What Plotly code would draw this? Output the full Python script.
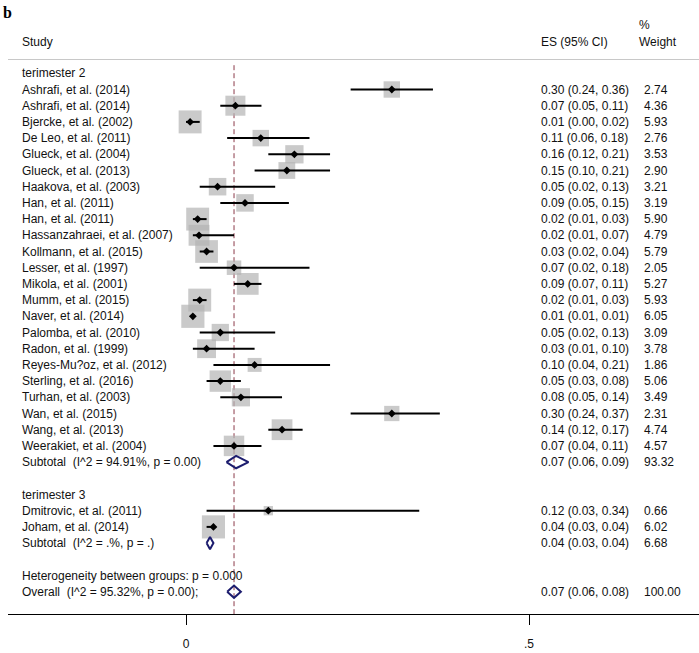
import numpy as np
import plotly.graph_objects as go

# ---------------- data ----------------
g2_labels = ["Ashrafi, et al. (2014)", "Ashrafi, et al. (2014)", "Bjercke, et al. (2002)",
             "De Leo, et al. (2011)", "Glueck, et al. (2004)", "Glueck, et al. (2013)",
             "Haakova, et al. (2003)", "Han, et al. (2011)", "Han, et al. (2011)",
             "Hassanzahraei, et al. (2007)", "Kollmann, et al. (2015)", "Lesser, et al. (1997)",
             "Mikola, et al. (2001)", "Mumm, et al. (2015)", "Naver, et al. (2014)",
             "Palomba, et al. (2010)", "Radon, et al. (1999)", "Reyes-Mu?oz, et al. (2012)",
             "Sterling, et al. (2016)", "Turhan, et al. (2003)", "Wan, et al. (2015)",
             "Wang, et al. (2013)", "Weerakiet, et al. (2004)"]
g2_es = [0.30, 0.072, 0.006, 0.109, 0.158, 0.147, 0.046, 0.086, 0.017, 0.019, 0.03, 0.07,
         0.09, 0.02, 0.01, 0.05, 0.03, 0.10, 0.05, 0.08, 0.30, 0.14, 0.07]
g2_lo = [0.24, 0.05, 0.00, 0.06, 0.12, 0.10, 0.02, 0.05, 0.01, 0.01, 0.02, 0.02,
         0.07, 0.01, 0.01, 0.02, 0.01, 0.04, 0.03, 0.05, 0.24, 0.12, 0.04]
g2_hi = [0.36, 0.11, 0.02, 0.18, 0.21, 0.21, 0.13, 0.15, 0.03, 0.07, 0.04, 0.18,
         0.11, 0.03, 0.01, 0.13, 0.10, 0.21, 0.08, 0.14, 0.37, 0.17, 0.11]
g2_w = [2.74, 4.36, 5.93, 2.76, 3.53, 2.90, 3.21, 3.19, 5.90, 4.79, 5.79, 2.05,
        5.27, 5.93, 6.05, 3.09, 3.78, 1.86, 5.06, 3.49, 2.31, 4.74, 4.57]

g3_labels = ["Dmitrovic, et al. (2011)", "Joham, et al. (2014)"]
g3_es = [0.12, 0.04]
g3_lo = [0.03, 0.03]
g3_hi = [0.34, 0.04]
g3_w = [0.66, 6.02]

group_titles = ["terimester 2", "terimester 3"]
sub_labels = ["Subtotal\u00a0 (I^2 = 94.91%, p = 0.00)", "Subtotal\u00a0 (I^2 = .%, p = .)"]
sub_es = [0.073, 0.035]
sub_lo = [0.059, 0.03]
sub_hi = [0.091, 0.04]
sub_w = [93.32, 6.68]

het_label = "Heterogeneity between groups: p = 0.000"
overall_label = "Overall\u00a0 (I^2 = 95.32%, p = 0.00);"
overall_es, overall_lo, overall_hi, overall_w = 0.07, 0.06, 0.08, 100.00

x_tickvals = [0, 0.5]
x_ticktext = ["0", ".5"]

# ---------------- layout geometry ----------------
W, H = 699, 653
ML, MR, MT, MB = 8, 0, 0, 39
ROW0, ROWH = 73.3, 16.2           # pixel y of row 0, row spacing
X0PX, XSCALE = 186.0, 686.0       # pixel x of value 0, px per unit

def px(xp):
    return (xp - ML) / (W - ML - MR)

def py(yp):
    return 1 - (yp - MT) / (H - MT - MB)

x_range = [(ML - X0PX) / XSCALE, (W - MR - X0PX) / XSCALE]
y_range = [(H - MB - ROW0) / ROWH, (MT - ROW0) / ROWH]

# ---------------- build rows ----------------
groups = [(g2_labels, g2_es, g2_lo, g2_hi, g2_w), (g3_labels, g3_es, g3_lo, g3_hi, g3_w)]
rows = []  # (row, label, kind, es, lo, hi, w)
r = 0
for gi, (labs, es, lo, hi, w) in enumerate(groups):
    rows.append((r, group_titles[gi], "title", None, None, None, None)); r += 1
    for i in range(len(labs)):
        rows.append((r, labs[i], "study", es[i], lo[i], hi[i], w[i])); r += 1
    rows.append((r, sub_labels[gi], "pooled", sub_es[gi], sub_lo[gi], sub_hi[gi], sub_w[gi])); r += 1
    r += 1
rows.append((r, het_label, "title", None, None, None, None)); r += 1
rows.append((r, overall_label, "pooled", overall_es, overall_lo, overall_hi, overall_w))

FONT = "Liberation Sans, Arial, Helvetica, sans-serif"
TXT = "#111111"

fig = go.Figure()

studies = [t for t in rows if t[2] == "study"]
sy = [t[0] for t in studies]
ses = [t[3] for t in studies]
sw = [t[6] for t in studies]

# weight boxes
fig.add_trace(go.Scatter(
    x=ses, y=sy, mode="markers",
    marker=dict(symbol="square", size=[2.5 + 8.4 * np.sqrt(v) for v in sw],
                color="#b4b4b4", line=dict(width=0)),
    hoverinfo="skip", showlegend=False))

# CI lines
cx, cy = [], []
for t in studies:
    cx += [t[4], t[5], None]
    cy += [t[0], t[0], None]
fig.add_trace(go.Scatter(x=cx, y=cy, mode="lines", line=dict(color="black", width=2),
                         hoverinfo="skip", showlegend=False))

# point estimates
fig.add_trace(go.Scatter(x=ses, y=sy, mode="markers",
                         marker=dict(symbol="diamond", size=6, color="black", line=dict(width=0)),
                         hoverinfo="skip", showlegend=False))

# pooled diamonds
HH = 0.38
for t in rows:
    if t[2] == "pooled":
        rr, es, lo, hi = t[0], t[3], t[4], t[5]
        fig.add_trace(go.Scatter(x=[lo, es, hi, es, lo], y=[rr, rr - HH, rr, rr + HH, rr],
                                 mode="lines", line=dict(color="#1c1c6e", width=2),
                                 hoverinfo="skip", showlegend=False))

# overall dashed line
fig.add_shape(type="line", xref="x", yref="y", x0=overall_es, x1=overall_es,
              y0=-0.5, y1=y_range[0], line=dict(color="#8c3a4a", width=1, dash="5px,3px"),
              layer="below")

# header separator
fig.add_shape(type="line", xref="paper", yref="paper", x0=0, x1=1, y0=py(59.5), y1=py(59.5),
              line=dict(color="#c8c8c8", width=1.2))

ann = []
def add_text(x, y, text, yref="y", size=12, **kw):
    ann.append(dict(x=x, y=y, xref="paper", yref=yref, text=text, showarrow=False,
                    xanchor="left", yanchor="middle", font=dict(family=FONT, size=size, color=TXT),
                    **kw))

# headers
add_text(px(20), -1.95, "Study")
add_text(px(539), -1.95, "ES (95% CI)")
add_text(px(637), -1.95, "Weight")
add_text(px(637), -3.0, "%")
ann.append(dict(x=px(1), y=py(12), xref="paper", yref="paper", text="<b>b</b>", showarrow=False,
                xanchor="left", yanchor="middle",
                font=dict(family="Liberation Serif, Times New Roman, serif", size=16, color="black")))

for t in rows:
    rr, lab, kind = t[0], t[1], t[2]
    add_text(px(20), rr, lab)
    if kind in ("study", "pooled"):
        add_text(px(539), rr, f"{t[3]:.2f} ({t[4]:.2f}, {t[5]:.2f})")
        add_text(px(642), rr, f"{t[6]:.2f}")

fig.update_layout(
    width=W, height=H, margin=dict(l=ML, r=MR, t=MT, b=MB),
    paper_bgcolor="white", plot_bgcolor="white",
    annotations=ann, showlegend=False,
    xaxis=dict(range=x_range, tickvals=x_tickvals, ticktext=x_ticktext, ticks="outside",
               ticklen=10, tickcolor="black", tickwidth=1, showline=True, linecolor="black",
               linewidth=1, showgrid=False, zeroline=False, ticklabelstandoff=9,
               tickfont=dict(family=FONT, size=12, color=TXT)),
    yaxis=dict(range=y_range, visible=False, showgrid=False, zeroline=False),
)

fig.write_html("out.html", config={"displayModeBar": False, "staticPlot": True},
               post_script="document.body.style.margin='0';document.body.style.overflow='hidden';")
